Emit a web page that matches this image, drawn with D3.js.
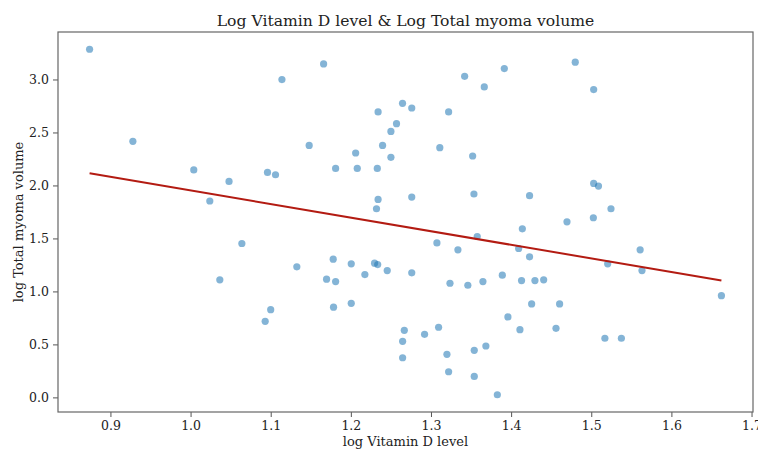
<!DOCTYPE html>
<html>
<head>
<meta charset="utf-8">
<script src="https://cdn.jsdelivr.net/npm/d3@7"></script>
<style>
  body { margin: 0; background: #fff; }
  text { font-family: "DejaVu Serif", serif; fill: #222; }
</style>
</head>
<body>
<div id="chart"></div>
<script>
// log Vitamin D level (x) and log Total myoma volume (y)
const vitD = [
    0.874, 0.928, 1.004, 1.024, 1.048, 1.096, 1.106, 1.114, 1.148, 1.166,
    1.181, 1.206, 1.208, 1.233, 1.234, 1.234, 1.232, 1.2645, 1.276, 1.257,
    1.250, 1.2396, 1.250, 1.322, 1.342, 1.3665, 1.3915, 1.311, 1.352, 1.480,
    1.503, 1.3536, 1.276, 1.423, 1.503, 1.509, 1.5246, 1.4697, 1.5026, 1.414,
    1.3577, 1.3074, 1.3336, 1.4094, 1.423, 1.561, 1.5205, 1.5633, 1.6624, 1.2454,
    1.276, 1.389, 1.3237, 1.346, 1.3648, 1.413, 1.4297, 1.4406, 1.4256, 1.4605,
    1.396, 1.411, 1.456, 1.3095, 1.2667, 1.292, 1.2646, 1.2646, 1.3199, 1.354,
    1.3685, 1.322, 1.354, 1.3828, 1.517, 1.5376, 1.064, 1.0365, 1.1326, 1.178,
    1.2005, 1.2296, 1.2335, 1.1697, 1.181, 1.2175, 1.100, 1.0931, 1.1784, 1.2005
];
const myomaVol = [
    3.285, 2.416, 2.146, 1.853, 2.038, 2.123, 2.101, 2.999, 2.378, 3.147,
    2.161, 2.306, 2.161, 2.161, 2.694, 1.868, 1.780, 2.775, 2.731, 2.583,
    2.510, 2.378, 2.265, 2.694, 3.030, 2.930, 3.103, 2.356, 2.278, 3.163,
    2.905, 1.919, 1.890, 1.903, 2.019, 1.994, 1.780, 1.657, 1.695, 1.591,
    1.518, 1.458, 1.392, 1.405, 1.326, 1.392, 1.260, 1.197, 0.960, 1.197,
    1.175, 1.153, 1.077, 1.058, 1.093, 1.102, 1.102, 1.109, 0.882, 0.882,
    0.759, 0.639, 0.652, 0.662, 0.633, 0.595, 0.529, 0.374, 0.406, 0.444,
    0.485, 0.242, 0.198, 0.025, 0.558, 0.558, 1.452, 1.109, 1.232, 1.304,
    1.260, 1.266, 1.253, 1.115, 1.093, 1.159, 0.828, 0.718, 0.851, 0.888
];
// fitted regression line
const fitSlope = -1.283;
const fitIntercept = 3.236;

const xTicks = [0.9, 1.0, 1.1, 1.2, 1.3, 1.4, 1.5, 1.6, 1.7];
const yTicks = [0.0, 0.5, 1.0, 1.5, 2.0, 2.5, 3.0];

const points = vitD.map((v, i) => ({x: v, y: myomaVol[i]}));

const W = 758, H = 450;
const margin = {top: 32, right: 5, bottom: 38, left: 58};
const width = W - margin.left - margin.right;
const height = H - margin.top - margin.bottom;

const svg = d3.select("#chart").append("svg")
    .attr("width", W)
    .attr("height", H);

const g = svg.append("g")
    .attr("transform", `translate(${margin.left},${margin.top})`);

// matplotlib style 5% padding
function padded(ext) {
    let p = (ext[1] - ext[0]) * 0.05;
    return [ext[0] - p, ext[1] + p];
}

const x = d3.scaleLinear()
    .domain(padded(d3.extent(vitD)))
    .range([0, width]);

const y = d3.scaleLinear()
    .domain(padded(d3.extent(myomaVol)))
    .range([height, 0]);

// axes
const xAxis = d3.axisBottom(x).tickValues(xTicks).tickFormat(d3.format(".1f"))
    .tickSize(5).tickPadding(4);
const yAxis = d3.axisLeft(y).tickValues(yTicks).tickFormat(d3.format(".1f"))
    .tickSize(5).tickPadding(4);

const gx = g.append("g")
    .attr("transform", `translate(0,${height})`)
    .call(xAxis);
const gy = g.append("g").call(yAxis);

[gx, gy].forEach(a => {
    a.select(".domain").remove();
    a.selectAll("line").attr("stroke", "#555");
    a.selectAll("text").style("font-family", "DejaVu Serif").style("font-size", "12.5px").attr("fill", "#222");
});

// points
g.selectAll(".dot")
    .data(points)
    .enter()
    .append("circle")
    .attr("class", "dot")
    .attr("cx", d => x(d.x))
    .attr("cy", d => y(d.y))
    .attr("r", 3.6)
    .attr("fill", "#1f77b4")
    .attr("fill-opacity", 0.55);

// regression line over the data range
const xr = d3.extent(vitD);
g.append("line")
    .attr("x1", x(xr[0]))
    .attr("y1", y(fitSlope * xr[0] + fitIntercept))
    .attr("x2", x(xr[1]))
    .attr("y2", y(fitSlope * xr[1] + fitIntercept))
    .attr("stroke", "#b31b12")
    .attr("stroke-width", 2);

// frame
g.append("rect")
    .attr("width", width)
    .attr("height", height)
    .attr("fill", "none")
    .attr("stroke", "#666")
    .attr("stroke-width", 1.2);

// title and labels
svg.append("text")
    .attr("x", margin.left + width / 2)
    .attr("y", 26)
    .attr("text-anchor", "middle")
    .style("font-size", "15.6px")
    .text("Log Vitamin D level & Log Total myoma volume");

svg.append("text")
    .attr("x", margin.left + width / 2)
    .attr("y", 446)
    .attr("text-anchor", "middle")
    .style("font-size", "13px")
    .text("log Vitamin D level");

svg.append("text")
    .attr("transform", `translate(23,${margin.top + height / 2}) rotate(-90)`)
    .attr("text-anchor", "middle")
    .style("font-size", "13px")
    .text("log Total myoma volume");
</script>
</body>
</html>
